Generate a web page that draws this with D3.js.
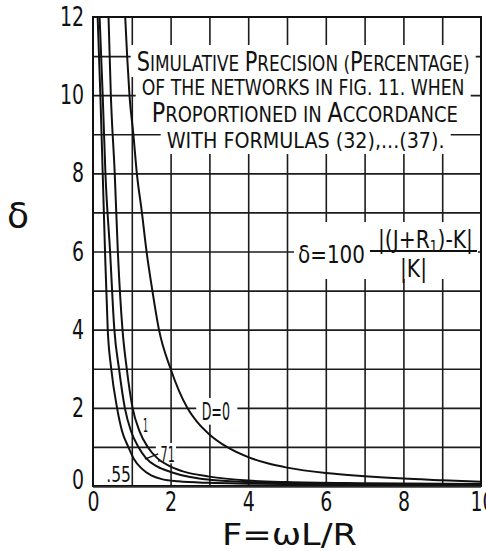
<!DOCTYPE html>
<html>
<head>
<meta charset="utf-8">
<script src="https://cdn.jsdelivr.net/npm/d3@7"></script>
<style>
  body { margin: 0; background: #fff; }
  text { font-family: "Liberation Sans Narrow", "DejaVu Sans Condensed", "DejaVu Sans", sans-serif; fill: #111; }
</style>
</head>
<body>
<script>
// curves: F = omega L / R, delta in percent
const curveNames = ["D=0", "1", ".71", ".55"];
const fD0 = [0.83, 0.88, 0.94, 1.04, 1.13, 1.26, 1.38, 1.53, 1.7, 2.0, 2.43, 2.7, 3.0, 3.45, 4.0, 4.5, 5.0, 6.0, 7.0, 8.0, 9.0, 10.0];
const dD0 = [12, 11, 10, 9, 8, 7, 6, 5, 4, 3, 2, 1.62, 1.32, 1.0, 0.74, 0.58, 0.47, 0.33, 0.25, 0.19, 0.15, 0.11];
const f1 = [0.4, 0.46, 0.56, 0.64, 0.76, 0.87, 1.02, 1.2, 1.41, 1.65, 1.95, 2.3, 3.0, 4.0, 5.0, 7.0, 10.0];
const d1 = [12, 10, 8, 6, 4, 3, 2, 1.4, 1.0, 0.72, 0.52, 0.38, 0.24, 0.14, 0.1, 0.07, 0.05];
const f71 = [0.17, 0.25, 0.32, 0.44, 0.55, 0.67, 0.82, 0.98, 1.17, 1.36, 1.65, 2.0, 2.5, 3.0, 4.0, 5.0, 7.0, 10.0];
const d71 = [12, 10, 8, 6, 4, 3, 2, 1.4, 1.0, 0.72, 0.5, 0.36, 0.23, 0.16, 0.1, 0.07, 0.05, 0.04];
const f55 = [0.12, 0.19, 0.25, 0.31, 0.38, 0.47, 0.62, 0.75, 0.91, 1.05, 1.25, 1.5, 1.8, 2.2, 3.0, 4.0, 6.0, 10.0];
const d55 = [12, 10, 8, 6, 4, 3, 2, 1.4, 1.0, 0.7, 0.45, 0.27, 0.17, 0.12, 0.08, 0.06, 0.04, 0.03];

const xTickLabels = [0, 2, 4, 6, 8, 10];
const yTickLabels = [0, 2, 4, 6, 8, 10, 12];
const titleLines = [
  "Simulative Precision (Percentage)",
  "of the networks in fig. 11. when",
  "Proportioned in Accordance",
  "with formulas (32),...(37)."
];

const W = 486, H = 551;
const pLeft = 93, pRight = 481, pTop = 17, pBottom = 486;

const svg = d3.select("body").append("svg").attr("width", W).attr("height", H);

const x = d3.scaleLinear().domain([0, 10]).range([pLeft, pRight]);
const y = d3.scaleLinear().domain([0, 12]).range([pBottom, pTop]);

// squeeze/stretch a text so that it spans x0..x1 on the given baseline
function fit(t, x0, x1, base) {
  t.attr("x", 0).attr("y", 0).attr("text-anchor", "start");
  const w = t.node().getBBox().width;
  t.attr("transform", `translate(${x0},${base}) scale(${(x1 - x0) / w},1)`);
}

// grid
const gx = svg.append("g").attr("transform", `translate(0,${pBottom})`)
  .call(d3.axisBottom(x).tickValues(d3.range(1, 10)).tickSize(-(pBottom - pTop)).tickFormat(""));
const gy = svg.append("g").attr("transform", `translate(${pLeft},0)`)
  .call(d3.axisLeft(y).tickValues(d3.range(1, 12)).tickSize(-(pRight - pLeft)).tickFormat(""));
[gx, gy].forEach(g => {
  g.select(".domain").remove();
  g.selectAll("line").attr("stroke", "#1c1c1c").attr("stroke-width", 1.6);
});

// white patches where lettering sits on the grid
const masks = svg.append("g").attr("fill", "#fff");
const titleBox = [[136.7, 469.7, 71], [141.7, 464.7, 95], [151.7, 458, 122], [166.7, 444.7, 148]];
titleBox.forEach(b => masks.append("rect").attr("x", b[0] - 6).attr("y", b[2] - 26).attr("width", b[1] - b[0] + 12).attr("height", 32));
masks.append("rect").attr("x", 294).attr("y", 222).attr("width", 184).attr("height", 57);
masks.append("rect").attr("x", x(2.66)).attr("y", y(2.25)).attr("width", x(3.72) - x(2.66)).attr("height", y(1.57) - y(2.25));
masks.append("rect").attr("x", x(1.62)).attr("y", y(1.1)).attr("width", x(2.14) - x(1.62)).attr("height", y(0.58) - y(1.1));

// title lettering, capitals large and the rest small capitals
titleLines.forEach((s, i) => {
  const t = svg.append("text");
  const runs = [];
  for (const ch of s) {
    const big = ch !== ch.toLowerCase();
    if (runs.length && runs[runs.length - 1].big === big) runs[runs.length - 1].s += ch;
    else runs.push({ big, s: ch });
  }
  runs.forEach(r => t.append("tspan").attr("font-size", r.big ? 26 : 21).text(r.s.toUpperCase()));
  fit(t, titleBox[i][0], titleBox[i][1], titleBox[i][2]);
});

// formula
const f1t = svg.append("text").attr("font-size", 25).text("δ=100");
fit(f1t, 298, 365, 263);
const num = svg.append("text").attr("font-size", 25);
num.append("tspan").text("|(J+R");
num.append("tspan").attr("font-size", 15).attr("dy", 4).text("1");
num.append("tspan").attr("dy", -4).text(")-K|");
fit(num, 378, 473, 248);
svg.append("line").attr("x1", 370).attr("x2", 477).attr("y1", 251).attr("y2", 251)
  .attr("stroke", "#111").attr("stroke-width", 2);
const den = svg.append("text").attr("font-size", 25).text("|K|");
fit(den, 400, 427, 276.5);

// curves
svg.append("clipPath").attr("id", "plot").append("rect")
  .attr("x", pLeft).attr("y", pTop).attr("width", pRight - pLeft).attr("height", pBottom - pTop);
const line = d3.line().x(d => x(d[0])).y(d => y(d[1])).curve(d3.curveMonotoneX);
const series = [[fD0, dD0], [f1, d1], [f71, d71], [f55, d55]];
svg.append("g").attr("clip-path", "url(#plot)")
  .selectAll("path").data(series).join("path")
  .attr("d", s => line(s[0].map((f, i) => [f, s[1][i]])))
  .attr("fill", "none").attr("stroke", "#111").attr("stroke-width", 2);

// curve labels
const labelPos = [[2.80, 3.53, 1.69, 24], [1.29, 1.42, 1.38, 19], [1.65, 2.11, 0.61, 22], [0.34, 0.98, 0.10, 22]];
curveNames.forEach((n, i) => {
  const p = labelPos[i];
  const t = svg.append("text").attr("font-size", p[3]).text(n);
  fit(t, x(p[0]), x(p[1]), y(p[2]));
});
svg.append("line").attr("x1", x(1.34)).attr("y1", y(0.69)).attr("x2", x(1.68)).attr("y2", y(0.82))
  .attr("stroke", "#111").attr("stroke-width", 1.4);

// frame
svg.append("rect").attr("x", pLeft).attr("y", pTop).attr("width", pRight - pLeft).attr("height", pBottom - pTop)
  .attr("fill", "none").attr("stroke", "#111").attr("stroke-width", 2);
svg.append("line").attr("x1", pLeft).attr("x2", pRight).attr("y1", pBottom + 1).attr("y2", pBottom + 1)
  .attr("stroke", "#333").attr("stroke-width", 1.5);

// tick labels, narrowed like the hand lettering
const sx = 0.78;
const ax = svg.append("g").attr("transform", `translate(0,${pBottom})`)
  .call(d3.axisBottom(x).tickValues(xTickLabels).tickSize(0).tickPadding(6));
const ay = svg.append("g").attr("transform", `translate(${pLeft},0)`)
  .call(d3.axisLeft(y).tickValues(yTickLabels).tickSize(0).tickPadding(9));
[ax, ay].forEach(g => {
  g.select(".domain").remove();
  g.selectAll("text").attr("font-size", 27).attr("font-family", null).attr("fill", "#111")
    .attr("transform", `scale(${sx},1)`);
});
ay.selectAll("text").attr("x", -9 / sx);
ax.selectAll(".tick").filter(d => d === 10).select("text").attr("x", 1 / sx);
ay.selectAll(".tick").filter(d => d === 0).select("text").attr("dy", "0.08em");

// axis titles
svg.append("text").attr("x", 18).attr("y", 228).attr("text-anchor", "middle")
  .attr("font-size", 36).style("font-family", "DejaVu Sans, sans-serif").text("δ");
const xt = svg.append("text").attr("font-size", 30).text("F=ωL/R");
fit(xt, 222, 357, 545);
</script>
</body>
</html>
